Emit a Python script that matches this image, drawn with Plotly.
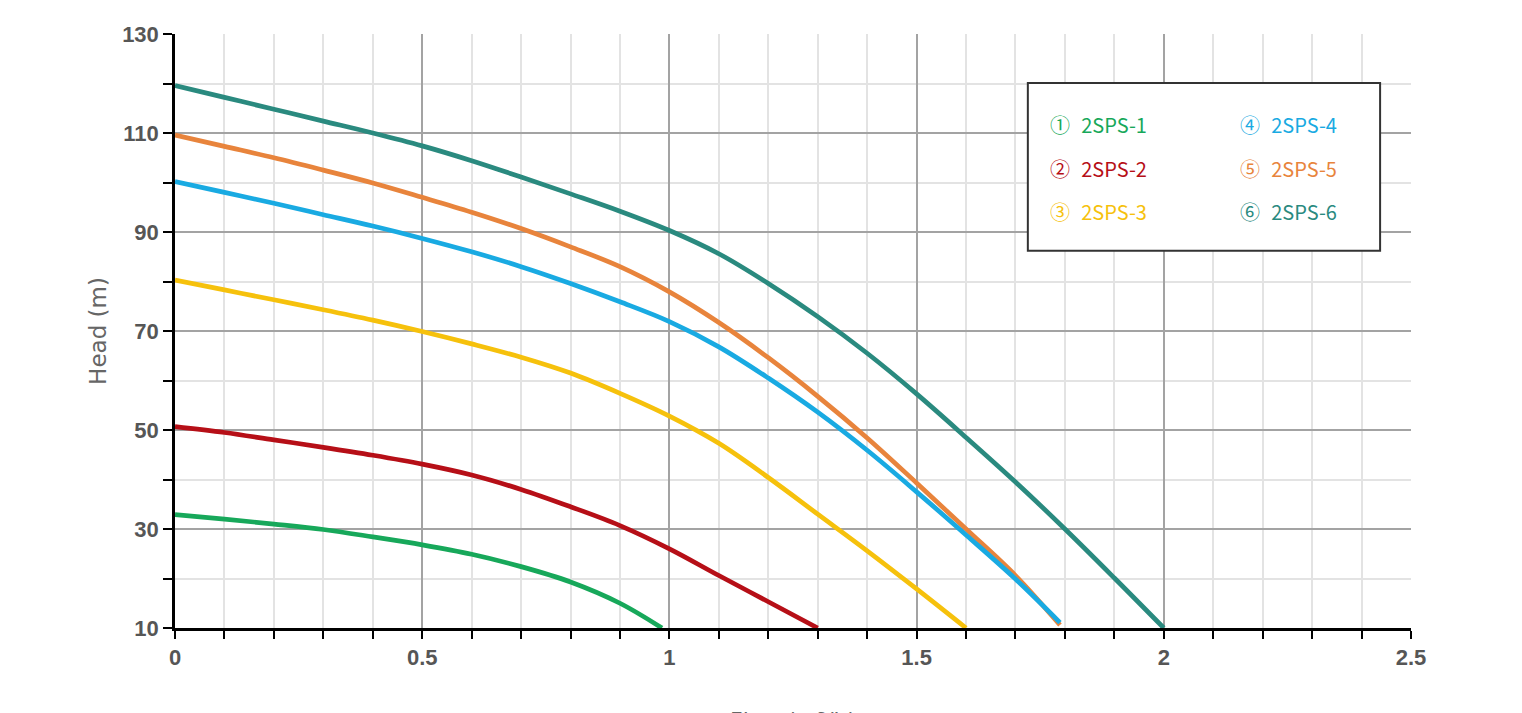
import plotly.graph_objects as go

# ---- data ----
names = ["2SPS-1", "2SPS-2", "2SPS-3", "2SPS-4", "2SPS-5", "2SPS-6"]
marks = ["①", "②", "③", "④", "⑤", "⑥"]
colors = ["#17a85a", "#b60f17", "#f6c10c", "#19aae2", "#e8843c", "#2a8a7f"]

flow_1 = [0, 0.1, 0.2, 0.3, 0.4, 0.5, 0.6, 0.7, 0.8, 0.9, 0.985]
head_1 = [32.9, 32.0, 31.0, 29.9, 28.4, 26.8, 24.9, 22.4, 19.3, 15.0, 10.0]

flow_2 = [0, 0.1, 0.2, 0.3, 0.4, 0.5, 0.6, 0.7, 0.8, 0.9, 1.0, 1.1, 1.2, 1.3]
head_2 = [50.7, 49.5, 48.0, 46.5, 44.9, 43.1, 40.9, 38.0, 34.5, 30.7, 26.0, 20.6, 15.3, 10.0]

flow_3 = [0, 0.1, 0.2, 0.3, 0.4, 0.5, 0.6, 0.7, 0.8, 0.9, 1.0, 1.1, 1.2, 1.3, 1.4, 1.5, 1.6]
head_3 = [80.3, 78.3, 76.3, 74.3, 72.2, 69.9, 67.4, 64.7, 61.5, 57.4, 52.8, 47.3, 40.4, 33.0, 25.6, 17.9, 10.0]

flow_4 = [0, 0.1, 0.2, 0.3, 0.4, 0.5, 0.6, 0.7, 0.8, 0.9, 1.0, 1.1, 1.2, 1.3, 1.4, 1.5, 1.6, 1.7, 1.79]
head_4 = [100.2, 98.0, 95.8, 93.5, 91.2, 88.7, 86.0, 83.0, 79.6, 75.9, 71.9, 66.8, 60.5, 53.6, 45.9, 37.5, 28.8, 19.9, 11.1]

flow_5 = [0, 0.1, 0.2, 0.3, 0.4, 0.5, 0.6, 0.7, 0.8, 0.9, 1.0, 1.1, 1.2, 1.3, 1.4, 1.5, 1.6, 1.7, 1.79]
head_5 = [109.6, 107.3, 105.0, 102.5, 99.9, 97.0, 94.0, 90.7, 87.0, 83.0, 77.9, 71.7, 64.6, 56.8, 48.4, 39.3, 30.0, 20.6, 10.6]

flow_6 = [0, 0.1, 0.2, 0.3, 0.4, 0.5, 0.6, 0.7, 0.8, 0.9, 1.0, 1.1, 1.2, 1.3, 1.4, 1.5, 1.6, 1.7, 1.8, 1.9, 2.0]
head_6 = [119.6, 117.2, 114.8, 112.4, 110.0, 107.4, 104.4, 101.1, 97.7, 94.2, 90.3, 85.6, 79.6, 72.9, 65.5, 57.3, 48.5, 39.5, 30.0, 20.1, 10.0]

x_ticks = [0, 0.5, 1, 1.5, 2, 2.5]
y_ticks = [10, 30, 50, 70, 90, 110, 130]
x_title = "Flow (m³/h)"
y_title = "Head (m)"

flows = [flow_1, flow_2, flow_3, flow_4, flow_5, flow_6]
heads = [head_1, head_2, head_3, head_4, head_5, head_6]

fig = go.Figure()
draw_order = [0, 1, 2, 4, 3, 5]  # blue drawn over orange where they meet
for i in draw_order:
    fig.add_trace(go.Scatter(x=flows[i], y=heads[i], name=names[i], mode="lines",
                             line=dict(color=colors[i], width=4.7, shape="spline", smoothing=1.0),
                             showlegend=False, cliponaxis=False))

tick_font = dict(family="Liberation Sans, Arial", size=22, color="#565656", weight="bold")

fig.update_xaxes(range=[0, 2.5], tickvals=x_ticks, ticktext=[str(v) for v in x_ticks],
                 showline=True, linecolor="#000000", linewidth=2.5,
                 ticks="outside", ticklen=8, tickwidth=2, tickcolor="#000000",
                 showgrid=True, gridcolor="#a3a3a3", gridwidth=1.5,
                 zeroline=False, tickfont=tick_font,
                 minor=dict(dtick=0.1, tick0=0, ticks="outside", ticklen=8, tickwidth=2,
                            tickcolor="#000000", showgrid=True, gridcolor="#e3e3e3", gridwidth=1.5))
fig.update_yaxes(range=[10, 130], tickvals=y_ticks, ticktext=[str(v) for v in y_ticks],
                 showline=True, linecolor="#000000", linewidth=2.5,
                 ticks="outside", ticklen=9, tickwidth=2, tickcolor="#000000",
                 showgrid=True, gridcolor="#a3a3a3", gridwidth=1.5,
                 zeroline=False, tickfont=tick_font,
                 title=dict(text=y_title, font=dict(family="DejaVu Sans, Liberation Sans", size=23, color="#666666"),
                            standoff=10),
                 minor=dict(dtick=10, tick0=10, ticks="outside", ticklen=9, tickwidth=2,
                            tickcolor="#000000", showgrid=True, gridcolor="#e3e3e3", gridwidth=1.5))

# x-axis title (mostly cut by the bottom edge, as in the reference)
fig.add_annotation(text=x_title, xref="paper", yref="paper", x=0.5, y=-0.155,
                   xanchor="center", yanchor="middle", showarrow=False,
                   font=dict(family="DejaVu Sans, Liberation Sans", size=22, color="#666666"))

# legend box
fig.add_shape(type="rect", xref="paper", yref="paper", x0=0.690, x1=0.975, y0=0.635, y1=0.9175,
              line=dict(color="#333333", width=2), fillcolor="white", layer="above")
row_y = [0.847, 0.774, 0.702]
col_x = [0.706, 0.860]
for i, (n, m, c) in enumerate(zip(names, marks, colors)):
    fig.add_annotation(text=f"{m}\u2002\u200a{n}", xref="paper", yref="paper",
                       x=col_x[i // 3], y=row_y[i % 3], xanchor="left", yanchor="middle",
                       showarrow=False,
                       font=dict(family="Noto Sans CJK SC, Noto Sans", size=20, color=c))

fig.update_layout(width=1522, height=713, margin=dict(l=167, r=119, t=26, b=93),
                  plot_bgcolor="white", paper_bgcolor="white", showlegend=False)

fig.write_html("out.html")
